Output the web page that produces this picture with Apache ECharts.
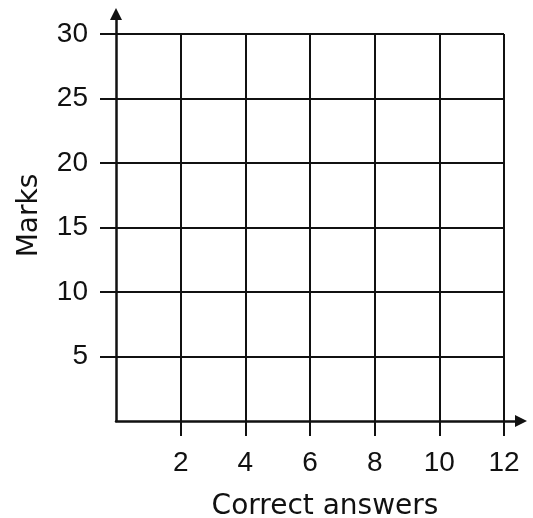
<!DOCTYPE html>
<html>
<head>
<meta charset="utf-8">
<script src="https://cdn.jsdelivr.net/npm/echarts@6/dist/echarts.min.js"></script>
<style>
  html, body { margin: 0; padding: 0; background: #fff; }
  #chart { width: 533px; height: 518px; }
</style>
</head>
<body>
<div id="chart"></div>
<script>
  // axis ranges and tick labels
  const xRange = [0, 12]
  const yRange = [0, 30]
  const xTicks = [2, 4, 6, 8, 10, 12]
  const yTicks = [5, 10, 15, 20, 25, 30]
  const xName = 'Correct answers'
  const yName = 'Marks'
  const points = [] // no data plotted, blank grid

  const numFont = 'Liberation Sans'
  const nameFont = 'DejaVu Sans'
  const ink = '#111'

  const chart = echarts.init(document.getElementById('chart'))
  chart.setOption({
    animation: false,
    grid: [
      { left: 116, right: 29, top: 34, bottom: 97, containLabel: false, outerBoundsMode: 'none' },
      // wider grid just for the arrowed axis lines
      { left: 116, right: 12, top: 14, bottom: 97, containLabel: false, outerBoundsMode: 'none' }
    ],
    xAxis: [
      {
        type: 'value',
        gridIndex: 0,
        min: xRange[0],
        max: xRange[1],
        interval: 2,
        axisLine: { show: false },
        axisTick: {
          show: true, inside: false, length: 15,
          customValues: xTicks,
          lineStyle: { color: ink, width: 2 }
        },
        axisLabel: {
          customValues: xTicks,
          margin: 28,
          color: ink,
          fontFamily: numFont,
          fontSize: 28
        },
        splitLine: { show: true, lineStyle: { color: ink, width: 2 } },
        name: xName,
        nameLocation: 'middle',
        nameGap: 72,
        nameTextStyle: { color: ink, fontFamily: nameFont, fontSize: 28, padding: [0, 0, 0, 30] }
      },
      {
        type: 'value',
        gridIndex: 1,
        min: 0,
        max: 1,
        axisLine: {
          show: true, onZero: false,
          symbol: ['none', 'triangle'],
          symbolSize: [12, 12],
          lineStyle: { color: ink, width: 2.5 }
        },
        axisTick: { show: false },
        axisLabel: { show: false },
        splitLine: { show: false }
      }
    ],
    yAxis: [
      {
        type: 'value',
        gridIndex: 0,
        min: yRange[0],
        max: yRange[1],
        interval: 5,
        axisLine: { show: false },
        axisTick: {
          show: true, inside: false, length: 16,
          customValues: yTicks,
          lineStyle: { color: ink, width: 2 }
        },
        axisLabel: {
          customValues: yTicks,
          margin: 28,
          color: ink,
          fontFamily: numFont,
          fontSize: 28
        },
        splitLine: { show: true, lineStyle: { color: ink, width: 2 } },
        name: yName,
        nameLocation: 'middle',
        nameGap: 72,
        nameTextStyle: { color: ink, fontFamily: nameFont, fontSize: 28, padding: [0, 0, 0, 24] }
      },
      {
        type: 'value',
        gridIndex: 1,
        min: 0,
        max: 1,
        axisLine: {
          show: true, onZero: false,
          symbol: ['none', 'triangle'],
          symbolSize: [12, 12],
          lineStyle: { color: ink, width: 2.5 }
        },
        axisTick: { show: false },
        axisLabel: { show: false },
        splitLine: { show: false }
      }
    ],
    series: [
      { type: 'scatter', xAxisIndex: 0, yAxisIndex: 0, data: points }
    ]
  })
</script>
</body>
</html>
